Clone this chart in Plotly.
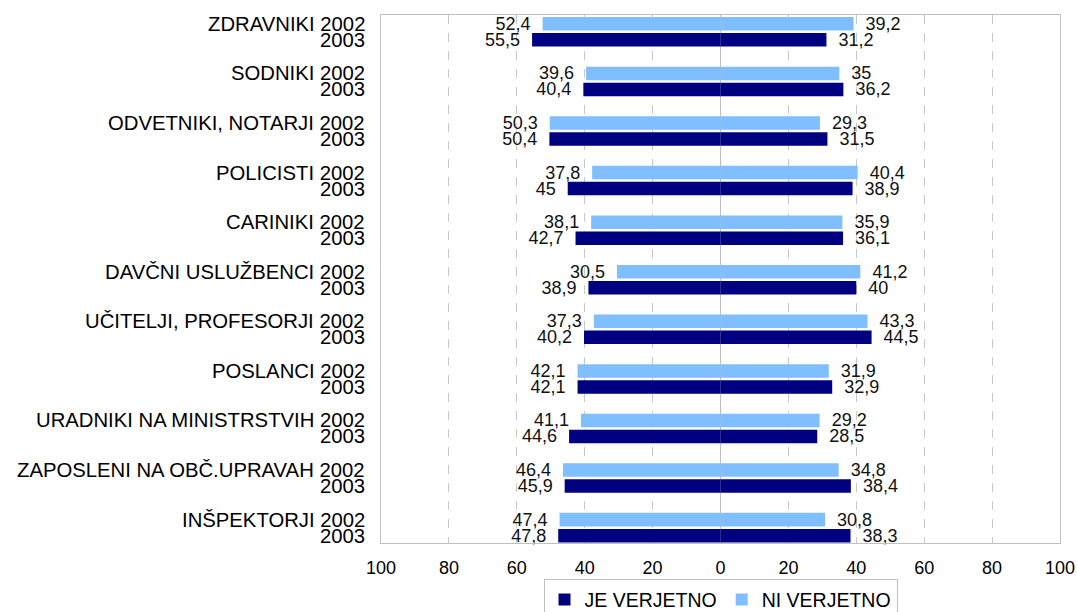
import plotly.graph_objects as go

categories = ["ZDRAVNIKI", "SODNIKI", "ODVETNIKI, NOTARJI", "POLICISTI", "CARINIKI",
              "DAVČNI USLUŽBENCI", "UČITELJI, PROFESORJI", "POSLANCI",
              "URADNIKI NA MINISTRSTVIH", "ZAPOSLENI NA OBČ.UPRAVAH", "INŠPEKTORJI"]
je_2002 = [52.4, 39.6, 50.3, 37.8, 38.1, 30.5, 37.3, 42.1, 41.1, 46.4, 47.4]
je_2003 = [55.5, 40.4, 50.4, 45, 42.7, 38.9, 40.2, 42.1, 44.6, 45.9, 47.8]
ni_2002 = [39.2, 35, 29.3, 40.4, 35.9, 41.2, 43.3, 31.9, 29.2, 34.8, 30.8]
ni_2003 = [31.2, 36.2, 31.5, 38.9, 36.1, 40, 44.5, 32.9, 28.5, 38.4, 38.3]
tick_vals = [-100, -80, -60, -40, -20, 0, 20, 40, 60, 80, 100]
tick_text = ["100", "80", "60", "40", "20", "0", "20", "40", "60", "80", "100"]
years = ["2002", "2003"]

DARK = "#000080"
LIGHT = "#7FBFFF"
FONT = "Liberation Sans, Arial, sans-serif"
PAD = "\u2002"


def fmt(v):
    return f"{v:g}".replace(".", ",")


fig = go.Figure()


def add(vals, side, year, color, name, show, rank):
    xs = [-v for v in vals] if side == "L" else list(vals)
    txt = [fmt(v) + PAD for v in vals] if side == "L" else [PAD + fmt(v) for v in vals]
    fig.add_trace(go.Bar(
        y=categories, x=xs, orientation="h", name=name,
        offsetgroup=year, marker=dict(color=color, line=dict(width=0)),
        text=txt, textposition="outside", constraintext="none", cliponaxis=False,
        textfont=dict(family=FONT, size=18, color="#111111"),
        showlegend=show, legendrank=rank, hoverinfo="skip",
    ))


add(je_2002, "L", "2002", LIGHT, "NI VERJETNO", True, 2)
add(ni_2002, "R", "2002", LIGHT, "NI VERJETNO", False, 2)
add(je_2003, "L", "2003", DARK, "JE VERJETNO", True, 1)
add(ni_2003, "R", "2003", DARK, "JE VERJETNO", False, 1)

annotations = []
for c in categories:
    annotations.append(dict(xref="paper", yref="y", x=0, y=c, xanchor="right", yanchor="middle",
                            xshift=-14, yshift=8, text=f"{c} {years[0]}", showarrow=False,
                            font=dict(family=FONT, size=20.3, color="#000000")))
    annotations.append(dict(xref="paper", yref="y", x=0, y=c, xanchor="right", yanchor="middle",
                            xshift=-14, yshift=-8, text=years[1], showarrow=False,
                            font=dict(family=FONT, size=20.3, color="#000000")))

fig.update_layout(
    width=1077, height=612,
    margin=dict(l=381, r=17, t=15, b=69, autoexpand=False),
    paper_bgcolor="white", plot_bgcolor="white",
    barmode="group", bargap=0.354, bargroupgap=0.156,
    font=dict(family=FONT, size=18, color="#000000"),
    annotations=annotations,
    legend=dict(orientation="h", x=0.5, xanchor="center", y=-0.069, yanchor="top",
                bordercolor="#c0c0c0", borderwidth=1, font=dict(family=FONT, size=19.5),
                itemwidth=30, tracegroupgap=0),
    showlegend=True,
)
fig.update_xaxes(
    range=[-100, 100], tickvals=tick_vals, ticktext=tick_text,
    showgrid=True, gridcolor="#c8c8c8", griddash="dash", gridwidth=1,
    zeroline=True, zerolinecolor="#bfbfbf", zerolinewidth=1,
    showline=True, linecolor="#c0c0c0", mirror=True, ticks="",
    tickfont=dict(family=FONT, size=18), ticklabelstandoff=8,
)
fig.update_yaxes(
    type="category", range=[len(categories) - 1 + 0.31, -0.34],
    showticklabels=False, showgrid=False,
    showline=True, linecolor="#c0c0c0", mirror=True, ticks="",
)

fig.write_html("out.html", config={"displayModeBar": False},
               post_script="document.body.style.margin='0px';document.body.style.overflow='hidden';")
